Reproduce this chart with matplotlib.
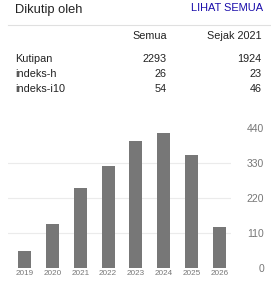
import matplotlib
matplotlib.use("Agg")
import matplotlib.pyplot as plt
from matplotlib.lines import Line2D

plt.rcParams['font.family'] = ['Liberation Sans', 'DejaVu Sans']

years = ["2019", "2020", "2021", "2022", "2023", "2024", "2025", "2026"]
citations = [52, 137, 250, 320, 399, 424, 355, 128]
y_ticks = [0, 110, 220, 330, 440]
grid_values = [110, 220, 330]

row_labels = ["Kutipan", "indeks-h", "indeks-i10"]
col_labels = ["Semua", "Sejak 2021"]
all_values = ["2293", "26", "54"]
since_values = ["1924", "23", "46"]

W, H = 271, 286
fig = plt.figure(figsize=(W / 100, H / 100), dpi=100)
fig.patch.set_facecolor("white")

def fx(px):
    return px / W

def fy(py):
    return 1 - py / H

text_col = "#222222"
tfs = 7.8
fig.text(fx(15), fy(12.7), "Dikutip oleh", fontsize=9.3, color=text_col, va="baseline", ha="left")
fig.text(fx(263.3), fy(11), "LIHAT SEMUA", fontsize=7.9, color="#1a0dab", va="baseline", ha="right")
fig.add_artist(Line2D([fx(8), fx(270)], [fy(24.5), fy(24.5)], color="#e0e0e0", lw=0.8,
                      transform=fig.transFigure))

col_x = [166.7, 261.7]
fig.text(fx(col_x[0]), fy(39.3), col_labels[0], fontsize=tfs, color=text_col, va="baseline", ha="right")
fig.text(fx(col_x[1]), fy(39.3), col_labels[1], fontsize=tfs, color=text_col, va="baseline", ha="right")
row_y = [62.3, 77.3, 92.3]
for lab, a, s, y in zip(row_labels, all_values, since_values, row_y):
    fig.text(fx(15), fy(y), lab, fontsize=tfs, color=text_col, va="baseline", ha="left")
    fig.text(fx(col_x[0]), fy(y), a, fontsize=tfs, color=text_col, va="baseline", ha="right")
    fig.text(fx(col_x[1]), fy(y), s, fontsize=tfs, color=text_col, va="baseline", ha="right")

ax_left, ax_right = 8, 231
ax_top, ax_bottom = 127.7, 267.7
ax = fig.add_axes([fx(ax_left), fy(ax_bottom), (ax_right - ax_left) / W, (ax_bottom - ax_top) / H])
ax.set_facecolor("none")
x = list(range(len(years)))
for g in grid_values:
    ax.axhline(g, color="#ebebeb", lw=0.8, zorder=0)
ax.bar(x, citations, width=0.467, color="#777777", zorder=2)
ax.set_xlim(-0.592, 7.41)
ax.set_ylim(0, 440)
for sp in ax.spines.values():
    sp.set_visible(False)
ax.set_xticks(x)
ax.set_xticklabels(years, fontsize=5.9, color="#777777")
ax.tick_params(axis="x", length=0, pad=1.5)
ax.yaxis.tick_right()
ax.set_yticks(y_ticks)
ax.set_yticklabels([str(v) for v in y_ticks], fontsize=7.5, color="#777777")
ax.tick_params(axis="y", length=0, pad=23.8)
for lab in ax.get_yticklabels():
    lab.set_horizontalalignment("right")

fig.savefig("out.png", dpi=100, facecolor="white")
